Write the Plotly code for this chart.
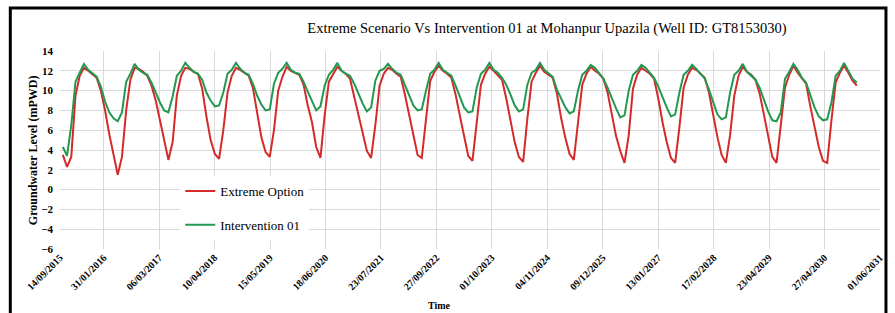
import plotly.graph_objects as go

# Category labels shown on the x axis (Excel-style category axis)
tick_labels = ["14/09/2015", "31/01/2016", "06/03/2017", "10/04/2018", "15/05/2019",
               "18/06/2020", "23/07/2021", "27/09/2022", "01/10/2023", "04/11/2024",
               "09/12/2025", "13/01/2027", "17/02/2028", "23/04/2029", "27/04/2030",
               "01/06/2031"]

# Groundwater level (mPWD), roughly monthly steps
extreme_option = [
    3.5, 2.3, 3.3, 9.5, 11.5, 12.3, 12.0, 11.6, 11.3, 10.0, 8.0, 5.6,
    3.6, 1.5, 3.3, 8.0, 11.1, 12.3, 12.2, 11.9, 11.5, 10.5, 9.0, 7.1,
    5.2, 3.0, 4.8, 9.5, 11.5, 12.3, 12.2, 11.9, 11.7, 10.2, 7.4, 5.0,
    3.6, 3.1, 6.0, 9.8, 11.5, 12.3, 12.1, 11.8, 11.5, 10.3, 7.8, 5.3,
    3.8, 3.3, 6.0, 10.0, 11.4, 12.4, 12.0, 11.8, 11.6, 10.6, 8.5, 6.8,
    4.3, 3.2, 7.5, 10.9, 11.7, 12.4, 12.0, 11.7, 11.2, 9.3, 7.6, 5.8,
    3.9, 3.2, 6.5, 10.5, 11.7, 12.3, 12.1, 11.7, 11.4, 9.6, 7.5, 5.4,
    3.5, 3.2, 7.0, 11.0, 11.9, 12.5, 12.0, 11.7, 11.3, 9.6, 7.5, 5.3,
    3.4, 2.9, 6.8, 10.6, 11.7, 12.4, 12.0, 11.6, 11.1, 9.2, 6.9, 4.8,
    3.3, 2.8, 7.2, 10.9, 11.8, 12.5, 11.9, 11.6, 11.3, 9.7, 7.2, 5.2,
    3.6, 3.0, 6.5, 10.6, 11.7, 12.4, 12.0, 11.7, 11.2, 9.8, 7.6, 5.4,
    3.9, 2.7, 5.5, 10.2, 11.6, 12.3, 12.0, 11.7, 11.2, 9.2, 6.8, 4.8,
    3.2, 2.7, 6.3, 10.3, 11.6, 12.3, 12.1, 11.7, 11.3, 9.8, 7.5, 5.3,
    3.5, 2.7, 5.5, 9.5, 11.5, 12.4, 11.9, 11.6, 11.1, 9.7, 7.6, 5.4,
    3.3, 2.7, 6.5, 10.3, 11.6, 12.5, 11.8, 11.3, 10.7, 8.4, 6.3, 4.3,
    2.9, 2.7, 7.0, 10.8, 11.8, 12.5, 11.8, 11.0, 10.5,
]

intervention_01 = [
    4.3, 3.4, 6.5, 10.9, 11.8, 12.7, 12.1, 11.7, 11.4, 10.4, 8.9, 7.8,
    7.2, 6.9, 7.8, 10.9, 11.7, 12.7, 12.1, 11.8, 11.6, 10.8, 9.8, 8.8,
    8.0, 7.8, 9.4, 11.5, 12.0, 12.8, 12.3, 11.9, 11.7, 11.1, 9.8, 9.0,
    8.4, 8.5, 9.8, 11.7, 12.1, 12.8, 12.2, 11.8, 11.6, 10.7, 9.5, 8.6,
    8.0, 8.1, 10.7, 11.8, 12.2, 12.8, 12.1, 11.8, 11.7, 10.9, 9.9, 8.9,
    8.0, 8.4, 10.5, 11.6, 12.1, 12.8, 12.0, 11.7, 11.5, 10.7, 9.6, 8.7,
    7.9, 8.3, 11.0, 12.0, 12.2, 12.7, 12.2, 11.8, 11.6, 10.5, 9.5, 8.5,
    8.0, 8.1, 10.0, 11.7, 12.1, 12.8, 12.1, 11.8, 11.5, 10.5, 9.3, 8.3,
    7.8, 7.9, 10.3, 11.7, 12.1, 12.8, 12.1, 11.8, 11.3, 10.6, 9.6, 8.5,
    7.9, 8.1, 10.6, 11.8, 12.1, 12.8, 12.1, 11.7, 11.4, 10.1, 9.2, 8.3,
    7.7, 7.9, 10.0, 11.6, 12.0, 12.6, 12.3, 11.8, 11.2, 10.3, 9.2, 8.2,
    7.3, 7.5, 10.0, 11.6, 12.0, 12.6, 12.3, 11.8, 11.3, 10.4, 9.3, 8.3,
    7.4, 7.6, 9.8, 11.6, 12.0, 12.6, 12.2, 11.7, 11.2, 10.1, 8.8, 7.6,
    7.1, 7.3, 9.8, 11.6, 12.0, 12.7, 11.9, 11.5, 11.1, 10.3, 9.1, 7.9,
    7.0, 6.9, 7.8, 11.2, 11.9, 12.7, 12.1, 11.3, 10.8, 9.6, 8.3, 7.4,
    7.0, 7.1, 8.8, 11.5, 12.0, 12.8, 12.0, 11.2, 10.8,
]

x_idx = list(range(len(extreme_option)))

# category positions of the labelled ticks (index units)
first_tick = -0.67
second_tick = 9.68
tick_step = 13.13
tickvals = [first_tick] + [second_tick + tick_step * i for i in range(len(tick_labels) - 1)]

SERIF = "Liberation Serif, Times New Roman, serif"
RED = "#d42a2a"
GREEN = "#22994f"

fig = go.Figure()
fig.add_trace(go.Scatter(x=x_idx, y=extreme_option, mode="lines", name="Extreme Option",
                         line=dict(color=RED, width=2), legendgroup="a"))
fig.add_trace(go.Scatter(x=x_idx, y=intervention_01, mode="lines", name="Intervention 01",
                         line=dict(color=GREEN, width=2), legendgroup="b"))

L, R, T, B = 60, 10, 51, 64
W, H = 895, 313
pw = W - L - R
ph = H - T - B

def px2x(p):
    return (p - L) / pw

def py2y(p):
    return (H - B - p) / ph

fig.update_layout(
    width=W, height=H,
    margin=dict(l=L, r=R, t=T, b=B),
    paper_bgcolor="white", plot_bgcolor="white",
    showlegend=True,
    legend=dict(x=px2x(181), y=py2y(176), xanchor="left", yanchor="top",
                bgcolor="white", font=dict(family=SERIF, size=13, color="black"),
                tracegroupgap=14, itemwidth=30, traceorder="grouped"),
    title=dict(text="Extreme Scenario Vs Intervention 01 at Mohanpur Upazila (Well ID: GT8153030)",
               xref="container", x=547 / W, xanchor="center", y=1 - 28 / H, yanchor="middle",
               font=dict(family=SERIF, size=14.5, color="black")),
    xaxis=dict(range=[first_tick, tickvals[-1]], tickvals=tickvals, ticktext=tick_labels,
               tickangle=-45, showgrid=True, gridcolor="#d9d9d9", gridwidth=1,
               zeroline=False, showline=False, ticks="",
               tickfont=dict(family=SERIF, size=10, color="black", weight="bold")),
    yaxis=dict(range=[-6, 14], dtick=2, showgrid=True, gridcolor="#d9d9d9", gridwidth=1,
               zeroline=False, showline=False, ticks="", ticklabelstandoff=6,
               tickfont=dict(family=SERIF, size=11, color="black", weight="bold")),
    annotations=[
        dict(text="<b>Groundwater Level (mPWD)</b>", xref="paper", yref="paper",
             x=px2x(33), y=py2y(150), textangle=-90, showarrow=False,
             xanchor="center", yanchor="middle",
             font=dict(family=SERIF, size=12, color="black")),
        dict(text="<b>Time</b>", xref="paper", yref="paper",
             x=px2x(442), y=py2y(305), showarrow=False,
             xanchor="center", yanchor="middle",
             font=dict(family=SERIF, size=10, color="black")),
    ],
    shapes=[
        dict(type="rect", xref="paper", yref="paper",
             x0=px2x(10), x1=px2x(891), y0=py2y(330), y1=py2y(8),
             line=dict(color="black", width=3), fillcolor="rgba(0,0,0,0)", layer="above"),
    ],
)

fig.write_html("out.html", config={"displayModeBar": False},
               post_script="document.body.style.margin='0';document.body.style.overflow='hidden';")
